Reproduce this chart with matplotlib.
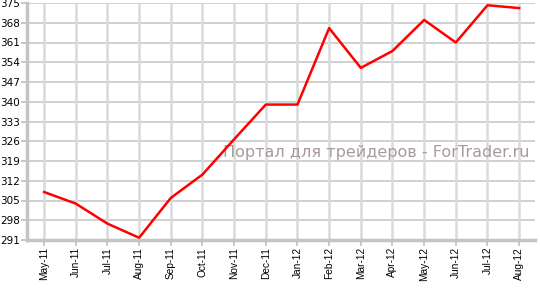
import numpy as np
import matplotlib.pyplot as plt

months = ['May-11', 'Jun-11', 'Jul-11', 'Aug-11', 'Sep-11', 'Oct-11', 'Nov-11', 'Dec-11',
          'Jan-12', 'Feb-12', 'Mar-12', 'Apr-12', 'May-12', 'Jun-12', 'Jul-12', 'Aug-12']
values = [308.0, 303.9, 296.8, 291.8, 305.9, 314.2, 326.7, 339.0,
          339.0, 366.1, 352.0, 358.0, 369.0, 361.0, 374.2, 373.2]
yticks = [291, 298, 305, 312, 319, 326, 333, 340, 347, 354, 361, 368, 375]

fig = plt.figure(figsize=(5.4, 2.88), dpi=100)
ax = fig.add_axes([27 / 540, 48 / 288, 508 / 540, 237 / 288])

x = np.arange(len(months))
ax.set_xlim(-0.54, 15.5)
ax.set_ylim(291, 375)

# grid
for yt in yticks:
    ax.axhline(yt, color='#c8c8c8', lw=1.2, zorder=1)
for xi in x:
    ax.axvline(xi, color='#dadada', lw=1.8, zorder=1)

ax.plot(x, values, color='#ff0000', lw=1.8, zorder=3)

ax.text(0.99, 0.37, 'Портал для трейдеров - ForTrader.ru', transform=ax.transAxes,
        ha='right', va='center', fontsize=11.5, color='#a89a9a', zorder=2)

for side in ['top', 'right']:
    ax.spines[side].set_visible(False)
for side in ['left', 'bottom']:
    ax.spines[side].set_color('#c4c4c4')
    ax.spines[side].set_linewidth(2.5)

ax.set_yticks(yticks)
ax.set_yticklabels([str(v) for v in yticks], fontsize=7.5, family='DejaVu Sans')
ax.set_xticks(x)
ax.set_xticklabels(months, rotation=90, fontsize=7.3, family='Liberation Sans')
ax.tick_params(axis='both', color='#c4c4c4', width=1.3, length=4, pad=1)

fig.savefig('out.png', dpi=100, facecolor='white')
